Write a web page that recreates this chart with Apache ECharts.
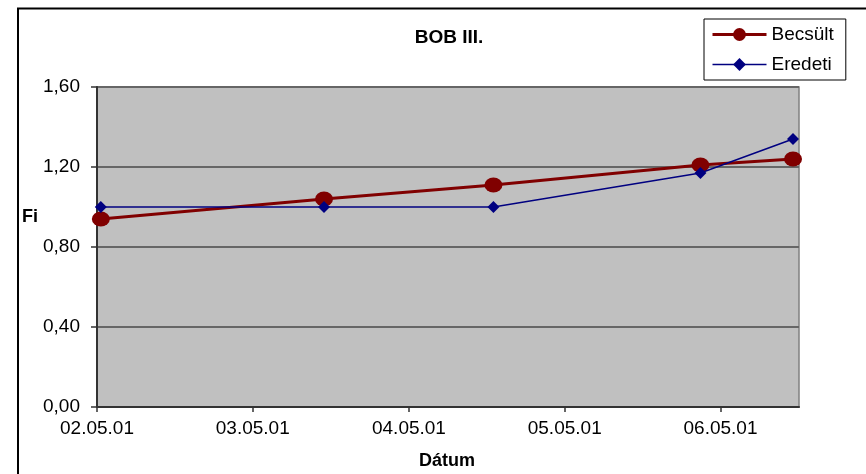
<!DOCTYPE html>
<html>
<head>
<meta charset="utf-8">
<title>BOB III.</title>
<script src="https://cdn.jsdelivr.net/npm/echarts@6/dist/echarts.min.js"></script>
<style>
  html, body { margin: 0; padding: 0; background: #fff; }
  #chart { width: 866px; height: 474px; }
</style>
</head>
<body>
<div id="chart"></div>
<script>
// Measurement dates and the two Fi series
const dates = ['2002-05-10', '2003-10-15', '2004-11-15', '2006-03-15', '2006-10-18'];
const becsult = [0.94, 1.04, 1.11, 1.21, 1.24];
const eredeti = [1.00, 1.00, 1.00, 1.17, 1.34];

// Axis ticks
const xTickDates = ['2002-05-01', '2003-05-01', '2004-05-01', '2005-05-01', '2006-05-01'];
const xTickLabels = ['02.05.01', '03.05.01', '04.05.01', '05.05.01', '06.05.01'];
const xRange = ['2002-05-01', '2006-11-01'];
const yTickLabels = ['0,00', '0,40', '0,80', '1,20', '1,60'];

const FONT = '"Liberation Sans", Arial, sans-serif';
// dates become millisecond timestamps on a linear value axis
const tp = s => Date.parse(s + 'T00:00:00Z');
const xTickTimes = xTickDates.map(tp);

const RED = '#800000';
const BLUE = '#000080';

const chart = echarts.init(document.getElementById('chart'), null, { renderer: 'canvas' });

chart.setOption({
  animation: false,
  backgroundColor: '#ffffff',
  textStyle: { fontFamily: FONT },
  title: {
    text: 'BOB III.',
    left: 444,
    top: 23,
    textAlign: 'center',
    textStyle: { fontFamily: FONT, fontSize: 19, fontWeight: 'bold', color: '#000' }
  },
  legend: {
    orient: 'vertical',
    left: 704,
    top: 19,
    padding: [6, 12, 6, 7],
    backgroundColor: '#ffffff',
    borderColor: '#000',
    borderWidth: 1,
    borderRadius: 0,
    itemWidth: 54,
    itemHeight: 16,
    itemGap: 11,
    textStyle: { fontFamily: FONT, fontSize: 19, color: '#000' },
    data: [
      { name: 'Becsült', lineStyle: { width: 3, color: RED } },
      { name: 'Eredeti', lineStyle: { width: 1.5, color: BLUE } }
    ]
  },
  grid: {
    left: 97, right: 67, top: 87, bottom: 67,
    show: true,
    backgroundColor: '#c0c0c0',
    borderColor: '#808080',
    borderWidth: 1.5
  },
  xAxis: {
    type: 'value',
    min: tp(xRange[0]),
    max: tp(xRange[1]),
    axisLine: { show: true, lineStyle: { color: '#333', width: 2 } },
    axisTick: { show: true, length: 5, customValues: xTickTimes, lineStyle: { color: '#333', width: 1.5 } },
    axisLabel: {
      customValues: xTickTimes,
      margin: 12,
      fontFamily: FONT, fontSize: 19, color: '#000',
      formatter: v => {
        const i = xTickTimes.indexOf(+v);
        return i >= 0 ? xTickLabels[i] : '';
      }
    },
    splitLine: { show: false }
  },
  yAxis: {
    type: 'value',
    min: 0, max: 1.6, interval: 0.4,
    axisLine: { show: true, lineStyle: { color: '#333', width: 2 } },
    axisTick: { show: true, length: 6, lineStyle: { color: '#333', width: 1.5 } },
    axisLabel: {
      margin: 17,
      fontFamily: FONT, fontSize: 19, color: '#000',
      formatter: v => yTickLabels[Math.round(v / 0.4)]
    },
    splitLine: { show: true, lineStyle: { color: '#666', width: 2 } }
  },
  graphic: [
    { type: 'rect', silent: true, z: 100,
      shape: { x: 18, y: 8.5, width: 1000, height: 1000 },
      style: { fill: 'none', stroke: '#000', lineWidth: 2 } },
    { type: 'text', left: 22, top: 208, z: 100,
      style: { text: 'Fi', font: 'bold 18px ' + FONT, fill: '#000' } },
    { type: 'text', x: 447, y: 461, z: 100,
      style: { text: 'Dátum', font: 'bold 18px ' + FONT, fill: '#000', align: 'center', verticalAlign: 'middle' } }
  ],
  series: [
    {
      name: 'Becsült',
      type: 'line',
      data: dates.map((d, i) => [tp(d), becsult[i]]),
      symbol: 'circle',
      symbolSize: [18, 15],
      itemStyle: { color: RED },
      lineStyle: { color: RED, width: 3 },
      z: 2
    },
    {
      name: 'Eredeti',
      type: 'line',
      data: dates.map((d, i) => [tp(d), eredeti[i]]),
      symbol: 'diamond',
      symbolSize: 12,
      itemStyle: { color: BLUE },
      lineStyle: { color: BLUE, width: 1.5 },
      z: 3
    }
  ]
});
</script>
</body>
</html>
